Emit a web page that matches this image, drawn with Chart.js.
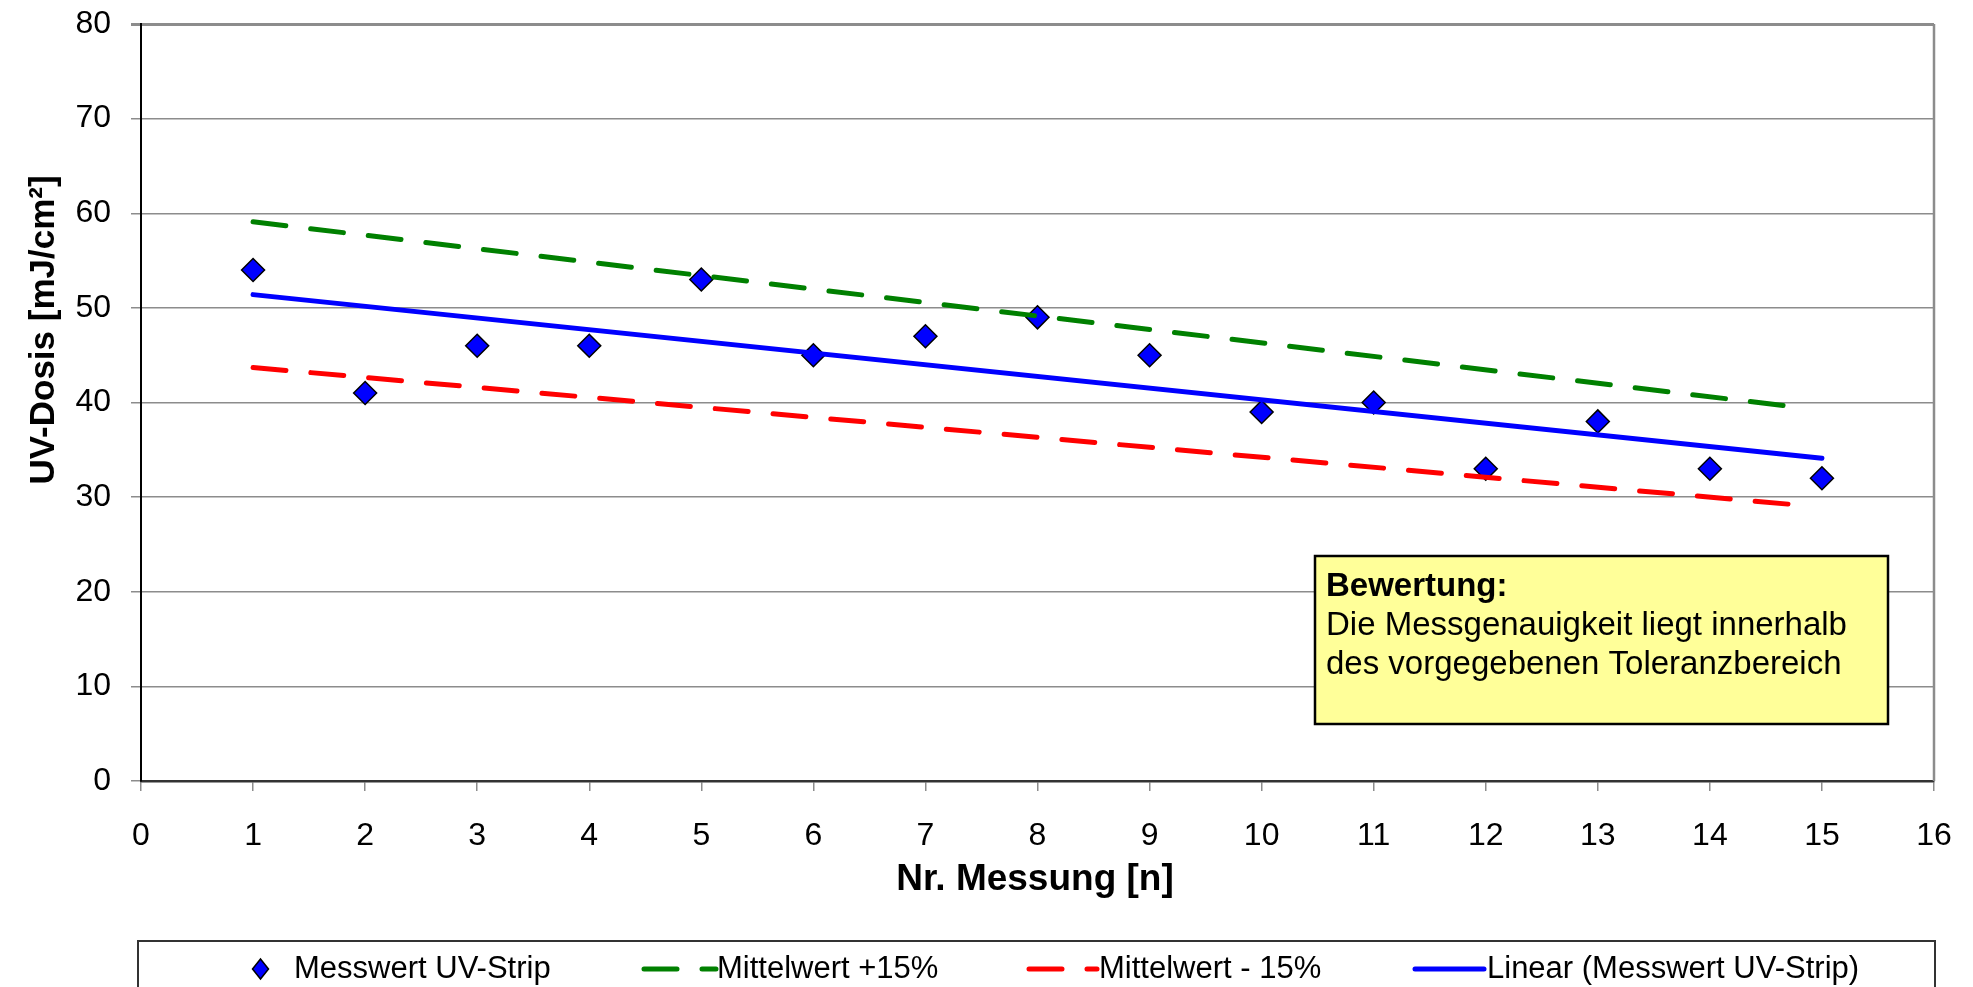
<!DOCTYPE html>
<html lang="de">
<head>
  <meta charset="UTF-8">
  <title>UV-Dosis Messung</title>
  <script src="https://cdn.jsdelivr.net/npm/chart.js"></script>
  <style>
    html, body { margin: 0; padding: 0; background: #fff; }
    #wrap { width: 1973px; height: 987px; }
  </style>
</head>
<body>
  <div id="wrap"><canvas id="chart" width="1973" height="987"></canvas></div>

  <script>
    // Messwerte
    const messung = [1, 2, 3, 4, 5, 6, 7, 8, 9, 10, 11, 12, 13, 14, 15];
    const messwert = [54, 41, 46, 46, 53, 45, 47, 49, 45, 39, 40, 33, 38, 33, 32];

    // Linien (Anfangs- und Endpunkt)
    const trendX = [1, 15];
    const trendY = [51.4, 34.1];
    const obenX = [1, 14.85];
    const obenY = [59.1, 39.4];
    const untenX = [1, 14.85];
    const untenY = [43.7, 29.1];

    const yTicks = [0, 10, 20, 30, 40, 50, 60, 70, 80];
    const xTicks = [0, 1, 2, 3, 4, 5, 6, 7, 8, 9, 10, 11, 12, 13, 14, 15, 16];

    const FONT = '"Liberation Sans", Arial, sans-serif';
    Chart.defaults.font.family = FONT;
    Chart.defaults.color = '#000';

    const pts = (xs, ys) => xs.map((x, i) => ({ x, y: ys[i] }));

    // Rahmen, Achsentitel, Bewertung und Legende
    const extras = {
      id: 'extras',
      afterDraw(chart) {
        const ctx = chart.ctx;
        const a = chart.chartArea;
        ctx.save();

        // rechter Rand
        ctx.strokeStyle = '#8c8c8c';
        ctx.lineWidth = 2.5;
        ctx.beginPath();
        ctx.moveTo(a.right, a.top);
        ctx.lineTo(a.right, a.bottom);
        ctx.stroke();

        // Achsentitel
        ctx.fillStyle = '#000';
        ctx.textAlign = 'center';
        ctx.textBaseline = 'middle';
        ctx.font = 'bold 37px ' + FONT;
        ctx.fillText('Nr. Messung [n]', 1035, 880);
        ctx.save();
        ctx.font = 'bold 35px ' + FONT;
        ctx.translate(44, 330);
        ctx.rotate(-Math.PI / 2);
        ctx.fillText('UV-Dosis [mJ/cm²]', 0, 0);
        ctx.restore();

        // Bewertung
        ctx.fillStyle = '#ffff99';
        ctx.fillRect(1315, 556, 573, 168);
        ctx.strokeStyle = '#000';
        ctx.lineWidth = 2.5;
        ctx.strokeRect(1315, 556, 573, 168);
        ctx.fillStyle = '#000';
        ctx.textAlign = 'left';
        ctx.textBaseline = 'alphabetic';
        ctx.font = 'bold 33px ' + FONT;
        ctx.fillText('Bewertung:', 1326, 596);
        ctx.font = '33px ' + FONT;
        ctx.fillText('Die Messgenauigkeit liegt innerhalb', 1326, 635);
        ctx.fillText('des vorgegebenen Toleranzbereich', 1326, 674);

        // Legende
        ctx.strokeStyle = '#333';
        ctx.lineWidth = 2;
        ctx.strokeRect(138, 941, 1797, 60);
        const ly = 969;
        const slots = [
          { sx: 251, ex: 270, tx: 294 },
          { sx: 644, ex: 716, tx: 717 },
          { sx: 1029, ex: 1097, tx: 1099 },
          { sx: 1415, ex: 1484, tx: 1487 }
        ];
        chart.data.datasets.forEach((ds, i) => {
          const s = slots[i];
          if (ds.showLine) {
            ctx.strokeStyle = ds.borderColor;
            ctx.lineWidth = ds.borderWidth;
            ctx.lineCap = ds.borderCapStyle || 'butt';
            ctx.setLineDash(ds.borderDash || []);
            ctx.beginPath();
            ctx.moveTo(s.sx, ly);
            ctx.lineTo(s.ex, ly);
            ctx.stroke();
            ctx.setLineDash([]);
          } else {
            const cx = (s.sx + s.ex) / 2, r = 10;
            ctx.fillStyle = ds.backgroundColor;
            ctx.strokeStyle = ds.borderColor;
            ctx.lineWidth = 1.5;
            ctx.beginPath();
            ctx.moveTo(cx, ly - r);
            ctx.lineTo(cx + r * 0.8, ly);
            ctx.lineTo(cx, ly + r);
            ctx.lineTo(cx - r * 0.8, ly);
            ctx.closePath();
            ctx.fill();
            ctx.stroke();
          }
          ctx.fillStyle = '#000';
          ctx.font = '31px ' + FONT;
          ctx.textAlign = 'left';
          ctx.textBaseline = 'middle';
          ctx.fillText(ds.label, s.tx, ly);
        });

        ctx.restore();
      }
    };

    new Chart(document.getElementById('chart'), {
      type: 'scatter',
      data: {
        datasets: [
          {
            label: 'Messwert UV-Strip',
            data: pts(messung, messwert),
            pointStyle: 'rectRot',
            pointRadius: 11.5,
            backgroundColor: '#0000ff',
            borderColor: '#000',
            borderWidth: 1.5,
            showLine: false,
            order: 10
          },
          {
            label: 'Mittelwert +15%',
            data: pts(obenX, obenY),
            showLine: true,
            borderColor: '#008000',
            borderWidth: 5,
            borderDash: [33, 25],
            borderCapStyle: 'round',
            pointRadius: 0,
            order: 1
          },
          {
            label: 'Mittelwert - 15%',
            data: pts(untenX, untenY),
            showLine: true,
            borderColor: '#ff0000',
            borderWidth: 5,
            borderDash: [33, 25],
            borderCapStyle: 'round',
            pointRadius: 0,
            order: 1
          },
          {
            label: 'Linear (Messwert UV-Strip)',
            data: pts(trendX, trendY),
            showLine: true,
            borderColor: '#0000ff',
            borderWidth: 5,
            borderCapStyle: 'round',
            pointRadius: 0,
            order: 0
          }
        ]
      },
      options: {
        responsive: false,
        animation: false,
        layout: { padding: { top: 24, right: 39, left: 0, bottom: 0 } },
        plugins: { legend: { display: false }, tooltip: { enabled: false } },
        scales: {
          x: {
            type: 'linear',
            min: 0,
            max: 16,
            afterBuildTicks: s => { s.ticks = xTicks.map(v => ({ value: v })); },
            afterFit: s => {
              s.height = 206;
              s.paddingLeft = 0;
              s.paddingRight = 0;
            },
            ticks: { font: { size: 32 }, padding: 26, maxRotation: 0, autoSkip: false },
            grid: { drawOnChartArea: false, tickLength: 10, color: '#8c8c8c', lineWidth: 1.5 },
            border: { color: '#333', width: 2.5 }
          },
          y: {
            min: 0,
            max: 80,
            afterBuildTicks: s => { s.ticks = yTicks.map(v => ({ value: v })); },
            afterFit: s => {
              s.width = 141;
              s.paddingTop = 0;
              s.paddingBottom = 0;
            },
            ticks: { font: { size: 32 }, padding: 20 },
            grid: {
              tickLength: 10,
              color: '#8c8c8c',
              lineWidth: c => (c.tick && c.tick.value === 80 ? 3 : 1.5)
            },
            border: { color: '#000', width: 2 }
          }
        }
      },
      plugins: [extras]
    });
  </script>
</body>
</html>
